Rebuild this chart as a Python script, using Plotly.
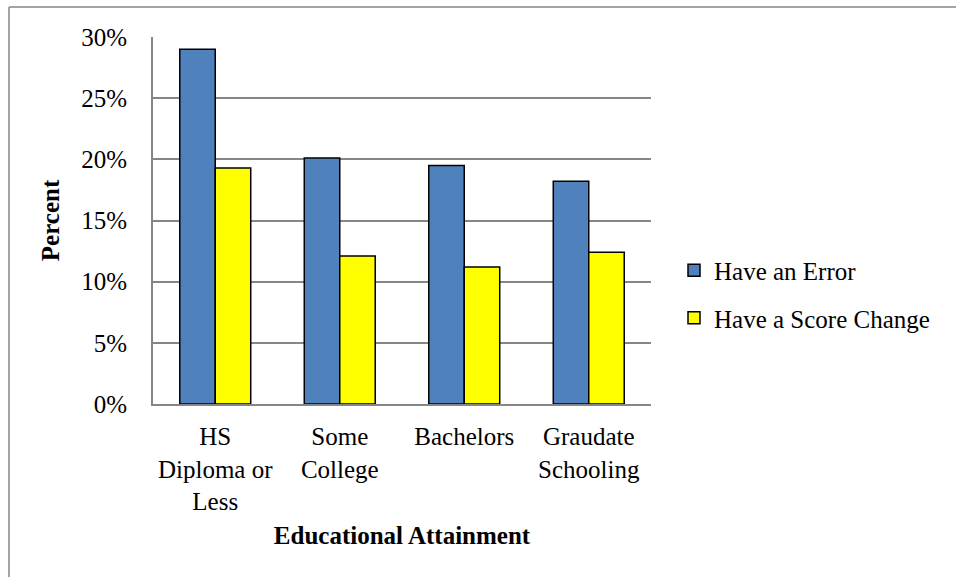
import plotly.graph_objects as go

categories = ["HS<br>Diploma or<br>Less", "Some<br>College", "Bachelors", "Graudate<br>Schooling"]
have_error = [0.290, 0.201, 0.195, 0.182]
have_score_change = [0.193, 0.121, 0.112, 0.124]
y_ticks = [0, 0.05, 0.10, 0.15, 0.20, 0.25, 0.30]

FONT = "Times New Roman"
FS = 25
GRID = "#868686"

fig = go.Figure()
fig.add_trace(go.Bar(x=categories, y=have_error, name="Have an Error",
                     marker=dict(color="#4F81BD", line=dict(color="#000000", width=1.5)),
                     legendgroup="a"))
fig.add_trace(go.Bar(x=categories, y=have_score_change, name="Have a Score Change",
                     marker=dict(color="#FFFF00", line=dict(color="#000000", width=1.5)),
                     legendgroup="b"))

W, H = 956, 577
L, R, T, B = 153, 651, 37, 404
pw, ph = R - L, B - T

def px_x(v):
    return (v - L) / pw

def px_y(v):
    return (B - v) / ph

fig.update_layout(
    width=W, height=H,
    margin=dict(l=L, r=W - R, t=T, b=H - B, pad=0),
    paper_bgcolor="white", plot_bgcolor="white",
    font=dict(family=FONT, size=FS, color="#000000"),
    barmode="group", bargap=0.43, bargroupgap=0,
    showlegend=True,
    legend=dict(x=px_x(674), xanchor="left", y=px_y(294), yanchor="middle",
                font=dict(family=FONT, size=FS, color="#000000"),
                tracegroupgap=12, bgcolor="rgba(0,0,0,0)", itemwidth=30),
    xaxis=dict(showline=True, linecolor=GRID, linewidth=2, ticks="",
               showgrid=False, tickfont=dict(family=FONT, size=FS),
               ticklabelstandoff=9,
               title=dict(text="<b>Educational Attainment</b>", font=dict(family=FONT, size=FS), standoff=12)),
    yaxis=dict(range=[0, 0.30], tickvals=y_ticks, tickformat=".0%",
               showline=True, linecolor=GRID, linewidth=2, ticks="",
               showgrid=True, gridcolor=GRID, gridwidth=1.5, zeroline=False,
               tickfont=dict(family=FONT, size=FS), ticklabelstandoff=19,
               title=dict(text="<b>Percent</b>", font=dict(family=FONT, size=FS), standoff=14)),
    shapes=[
        dict(type="line", xref="paper", yref="paper", x0=px_x(9), x1=px_x(960),
             y0=px_y(7), y1=px_y(7), line=dict(color=GRID, width=1.5)),
        dict(type="line", xref="paper", yref="paper", x0=px_x(9), x1=px_x(9),
             y0=px_y(7), y1=px_y(580), line=dict(color=GRID, width=1.5)),
    ],
)

fig.write_html("out.html")
